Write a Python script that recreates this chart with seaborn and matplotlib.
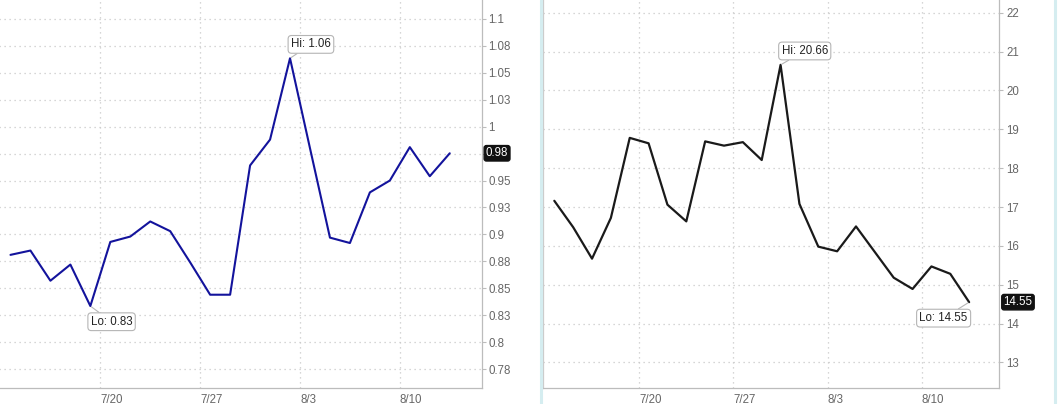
import numpy as np
import pandas as pd
import matplotlib
matplotlib.use("Agg")
import matplotlib.pyplot as plt
from matplotlib.lines import Line2D
import seaborn as sns

sns.set_style("white")
plt.rcParams["font.family"] = ["Liberation Sans Narrow", "Liberation Sans", "DejaVu Sans"]

# trading days shown on both panels
dates = ["7/13", "7/14", "7/15", "7/16", "7/17",
         "7/20", "7/21", "7/22", "7/23", "7/24",
         "7/27", "7/28", "7/29", "7/30", "7/31",
         "8/3", "8/4", "8/5", "8/6", "8/7",
         "8/10", "8/11", "8/12"]
week_labels = ["7/20", "7/27", "8/3", "8/10"]

# left panel (blue)
left_vals = [0.881, 0.885, 0.857, 0.872, 0.8335, 0.893, 0.898, 0.912, 0.903, 0.874,
             0.844, 0.844, 0.964, 0.988, 1.0635, 0.980, 0.897, 0.892, 0.939, 0.950,
             0.981, 0.954, 0.9753]
left_ticks = [0.775, 0.8, 0.825, 0.85, 0.875, 0.9, 0.925, 0.95, 0.975, 1.0,
              1.025, 1.05, 1.075, 1.1]
left_ticklabels = ["0.78", "0.8", "0.83", "0.85", "0.88", "0.9", "0.93", "0.95",
                   "0.98", "1", "1.03", "1.05", "1.08", "1.1"]

# right panel (black)
right_vals = [17.16, 16.48, 15.67, 16.72, 18.78, 18.64, 17.06, 16.63, 18.69, 18.58,
              18.67, 18.21, 20.66, 17.08, 15.98, 15.86, 16.50, 15.84, 15.18, 14.89,
              15.47, 15.28, 14.55]
right_ticks = [13, 14, 15, 16, 17, 18, 19, 20, 21, 22]
right_ticklabels = ["13", "14", "15", "16", "17", "18", "19", "20", "21", "22"]

df = pd.DataFrame({"day": np.arange(len(dates)), "date": dates,
                   "left": left_vals, "right": right_vals})
week_pos = [dates.index(d) - 0.5 for d in week_labels]

W, H = 1058, 404
fig = plt.figure(figsize=(W / 100, H / 100), dpi=100)
ax1 = fig.add_axes([-1.5 / W, 1 - 388 / H, 483.2 / W, 388 / H])
ax2 = fig.add_axes([543 / W, 1 - 388 / H, 456.3 / W, 388 / H])

grid_c = "#c9c9c9"
spine_c = "#bcbcbc"
txt_c = "#666666"
fs = 8.3


def style(ax, yticks, ylabels, ylim, last):
    ax.set_xlim(-0.6, 23.6)
    ax.set_ylim(*ylim)
    ax.set_xticks(week_pos)
    ax.set_xticklabels(week_labels, ha="left")
    # the last-value tag sits over the tick label it would collide with
    span = (ylim[1] - ylim[0]) * 14 / 388
    ax.set_yticks(yticks)
    ax.set_yticklabels(["" if abs(t - last) < span / 2 else lab
                        for t, lab in zip(yticks, ylabels)])
    ax.yaxis.tick_right()
    ax.tick_params(axis="y", length=3, width=0.8, color=spine_c, pad=2,
                   labelsize=fs, labelcolor=txt_c)
    ax.tick_params(axis="x", length=3, width=0.8, color=spine_c, pad=1,
                   labelsize=fs, labelcolor=txt_c)
    ax.grid(True, color=grid_c, linestyle=(0, (1, 3)), linewidth=0.9)
    ax.set_xlabel("")
    ax.set_ylabel("")
    for s in ["top", "left"]:
        ax.spines[s].set_visible(False)
    for s in ["right", "bottom"]:
        ax.spines[s].set_color(spine_c)
        ax.spines[s].set_linewidth(0.9)


def hilo(ax, vals, lo_side):
    hi = int(np.argmax(vals))
    lo = int(np.argmin(vals))
    box = dict(boxstyle="round,pad=0.25,rounding_size=0.3", fc="white",
               ec="#b5b5b5", lw=0.8)
    ax.annotate(f"Hi: {vals[hi]:.2f}", xy=(hi, vals[hi]), xytext=(0.7, 10),
                textcoords="offset points", ha="left", va="center",
                fontsize=fs, color="#222222", bbox=box,
                arrowprops=dict(arrowstyle="-", color="#b5b5b5", lw=0.8,
                                shrinkA=0, shrinkB=1))
    if lo_side == "right":
        xt, ha = (0.3, -11.3), "left"
    else:
        xt, ha = (-1, -11.5), "right"
    ax.annotate(f"Lo: {vals[lo]:.2f}", xy=(lo, vals[lo]), xytext=xt,
                textcoords="offset points", ha=ha, va="center",
                fontsize=fs, color="#222222", bbox=box,
                arrowprops=dict(arrowstyle="-", color="#b5b5b5", lw=0.8,
                                shrinkA=0, shrinkB=1))
    last = vals[-1]
    ax.annotate(f"{last:.2f}", xy=(1, last), xycoords=("axes fraction", "data"),
                xytext=(3, 0), textcoords="offset points", ha="left", va="center",
                fontsize=fs, color="white", zorder=10,
                bbox=dict(boxstyle="round,pad=0.15,rounding_size=0.2",
                          fc="#111111", ec="#111111"))


sns.lineplot(data=df, x="day", y="left", ax=ax1, color="#13139c", linewidth=1.5)
style(ax1, left_ticks, left_ticklabels, (0.7574, 1.1176), left_vals[-1])
hilo(ax1, left_vals, "right")

sns.lineplot(data=df, x="day", y="right", ax=ax2, color="#1a1a1a", linewidth=1.6)
style(ax2, right_ticks, right_ticklabels, (12.34, 22.33), right_vals[-1])
ax2.spines["left"].set_visible(True)
ax2.spines["left"].set_color("#cccccc")
ax2.spines["left"].set_linewidth(0.9)
hilo(ax2, right_vals, "left")

# panel separators
for xp in [540.5, 1055]:
    fig.add_artist(Line2D([xp / W, xp / W], [0, 1], color="#d5edf0", lw=2.2,
                          transform=fig.transFigure))

fig.savefig("out.png", dpi=100)
